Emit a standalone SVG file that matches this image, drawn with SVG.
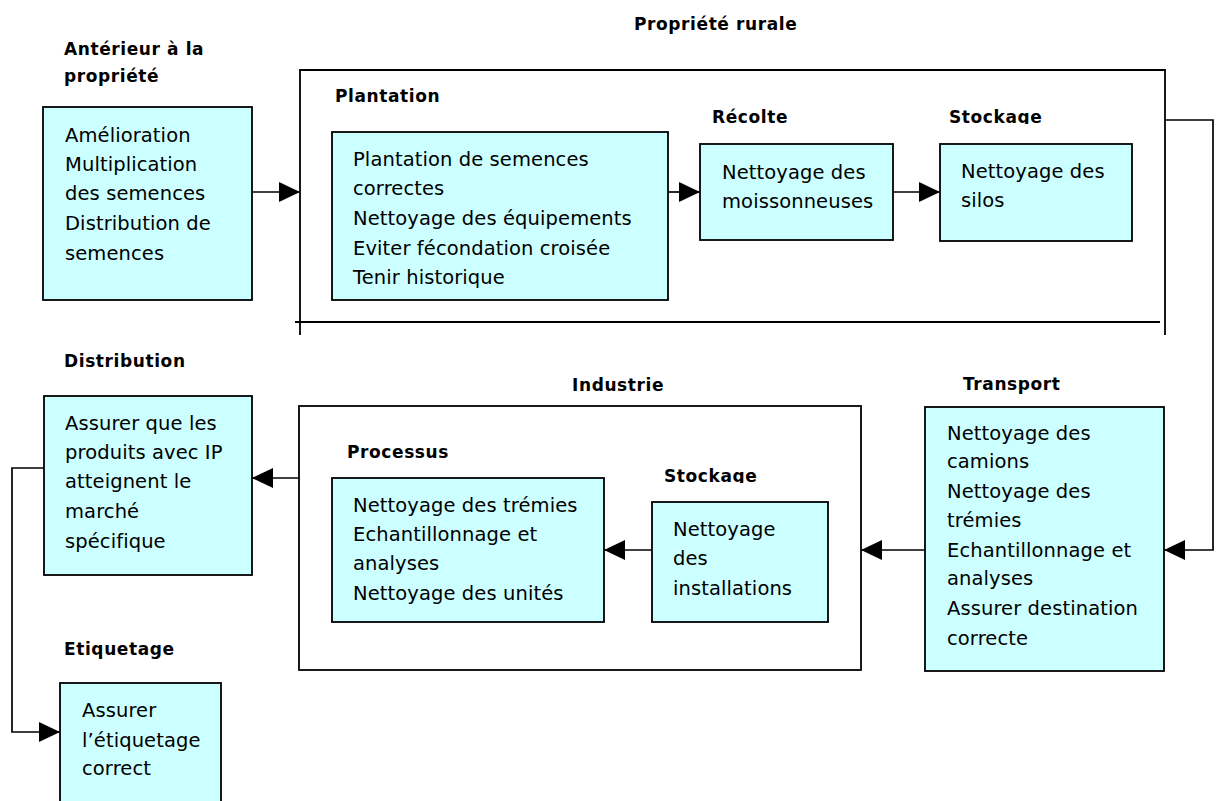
<svg xmlns="http://www.w3.org/2000/svg" width="1218" height="801" viewBox="0 0 1218 801">
<defs>
<style>
.box{fill:#CCFFFF;stroke:#000;stroke-width:1.8}
.frame{fill:none;stroke:#000;stroke-width:1.8}
.conn{fill:none;stroke:#000;stroke-width:1.7}
.h{font-family:"DejaVu Sans",sans-serif;font-weight:bold;font-size:17px;letter-spacing:0.6px;fill:#000}
.t{font-family:"DejaVu Sans",sans-serif;font-size:19.5px;letter-spacing:0.1px;fill:#000}
</style>
<marker id="arr" markerUnits="userSpaceOnUse" markerWidth="22" markerHeight="22" refX="21" refY="10" orient="auto">
<path d="M0,0 L21,10 L0,20 z" fill="#000"/>
</marker>
<clipPath id="clipS1"><rect x="940" y="100" width="120" height="24"/></clipPath>
<clipPath id="clipS2"><rect x="655" y="459" width="120" height="24"/></clipPath>
</defs>
<rect width="1218" height="801" fill="#fff"/>

<g id="propriete-rurale">
<text class="h" x="634" y="30">Propriété rurale</text>
<path class="frame" d="M300,335 V70 H1165 V335 M295,322 H1160"/>
</g>

<g id="anterieur">
<text class="h" x="64" y="55">Antérieur à la</text>
<text class="h" x="64" y="82">propriété</text>
<rect class="box" x="43" y="107" width="209" height="193"/>
<text class="t" x="65" y="142">Amélioration</text>
<text class="t" x="65" y="171">Multiplication</text>
<text class="t" x="65" y="200">des semences</text>
<text class="t" x="65" y="230">Distribution de</text>
<text class="t" x="65" y="260">semences</text>
</g>

<g id="plantation">
<text class="h" x="335" y="102">Plantation</text>
<rect class="box" x="332" y="132" width="336" height="168"/>
<text class="t" x="353" y="166">Plantation de semences</text>
<text class="t" x="353" y="195">correctes</text>
<text class="t" x="353" y="225">Nettoyage des équipements</text>
<text class="t" x="353" y="255">Eviter fécondation croisée</text>
<text class="t" x="353" y="284">Tenir historique</text>
</g>

<g id="recolte">
<text class="h" x="712" y="123">Récolte</text>
<rect class="box" x="700" y="144" width="193" height="96"/>
<text class="t" x="722" y="179">Nettoyage des</text>
<text class="t" x="722" y="208">moissonneuses</text>
</g>

<g id="stockage-ferme">
<text class="h" x="949" y="123" clip-path="url(#clipS1)">Stockage</text>
<rect class="box" x="940" y="144" width="192" height="97"/>
<text class="t" x="961" y="178">Nettoyage des</text>
<text class="t" x="961" y="207">silos</text>
</g>

<g id="transport">
<text class="h" x="963" y="390">Transport</text>
<rect class="box" x="925" y="407" width="239" height="264"/>
<text class="t" x="947" y="440">Nettoyage des</text>
<text class="t" x="947" y="468">camions</text>
<text class="t" x="947" y="498">Nettoyage des</text>
<text class="t" x="947" y="527">trémies</text>
<text class="t" x="947" y="557">Echantillonnage et</text>
<text class="t" x="947" y="585">analyses</text>
<text class="t" x="947" y="615">Assurer destination</text>
<text class="t" x="947" y="645">correcte</text>
</g>

<g id="industrie">
<text class="h" x="572" y="391">Industrie</text>
<rect class="frame" x="299" y="406" width="562" height="264"/>
</g>

<g id="processus">
<text class="h" x="347" y="458">Processus</text>
<rect class="box" x="332" y="478" width="272" height="144"/>
<text class="t" x="353" y="512">Nettoyage des trémies</text>
<text class="t" x="353" y="541">Echantillonnage et</text>
<text class="t" x="353" y="570">analyses</text>
<text class="t" x="353" y="600">Nettoyage des unités</text>
</g>

<g id="stockage-industrie">
<text class="h" x="664" y="482" clip-path="url(#clipS2)">Stockage</text>
<rect class="box" x="652" y="502" width="176" height="120"/>
<text class="t" x="673" y="536">Nettoyage</text>
<text class="t" x="673" y="565">des</text>
<text class="t" x="673" y="595">installations</text>
</g>

<g id="distribution">
<text class="h" x="64" y="367">Distribution</text>
<rect class="box" x="44" y="396" width="208" height="179"/>
<text class="t" x="65" y="430">Assurer que les</text>
<text class="t" x="65" y="459">produits avec IP</text>
<text class="t" x="65" y="488">atteignent le</text>
<text class="t" x="65" y="518">marché</text>
<text class="t" x="65" y="548">spécifique</text>
</g>

<g id="etiquetage">
<text class="h" x="64" y="655">Etiquetage</text>
<rect class="box" x="60" y="683" width="161" height="130"/>
<text class="t" x="82" y="717">Assurer</text>
<text class="t" x="82" y="747">l’étiquetage</text>
<text class="t" x="82" y="775">correct</text>
</g>

<g id="connectors">
<path class="conn" marker-end="url(#arr)" d="M252,192 H300"/>
<path class="conn" marker-end="url(#arr)" d="M668,192 H700"/>
<path class="conn" marker-end="url(#arr)" d="M893,192 H940"/>
<path class="conn" marker-end="url(#arr)" d="M1165,120 H1213 V550 H1164"/>
<path class="conn" marker-end="url(#arr)" d="M925,550 H861"/>
<path class="conn" marker-end="url(#arr)" d="M652,550 H604"/>
<path class="conn" marker-end="url(#arr)" d="M299,478 H252"/>
<path class="conn" marker-end="url(#arr)" d="M44,468 H12 V732 H60"/>
</g>
</svg>
